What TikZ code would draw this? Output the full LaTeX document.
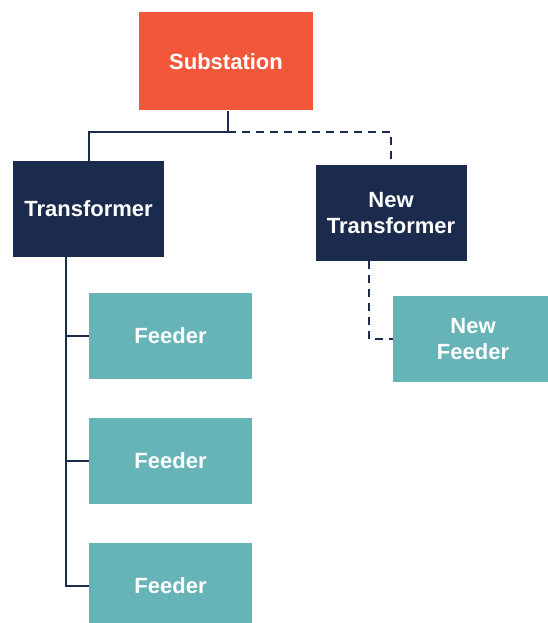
\documentclass[tikz,border=0pt]{standalone}
\usepackage{fontspec}
\setmainfont{Liberation Sans}
\usetikzlibrary{calc}
\definecolor{subred}{HTML}{F2573A}
\definecolor{navy}{HTML}{1B2B4D}
\definecolor{teal}{HTML}{67B4B8}
\tikzset{
    block/.style = {rectangle, inner sep=0pt, text=white,
        font=\fontsize{22}{26}\selectfont\bfseries, align=center},
    subblock/.style = {block, fill=subred, minimum width=174pt, minimum height=98pt},
    trblock/.style = {block, fill=navy, minimum width=151pt, minimum height=96pt},
    fdblock/.style = {block, fill=teal, minimum width=163pt, minimum height=86pt},
    link/.style = {draw=navy, line width=2pt},
    newlink/.style = {link, dash pattern=on 8pt off 6pt}
}

\begin{document}
\begin{tikzpicture}[x=1pt,y=-1pt]
                \useasboundingbox (0,0) rectangle (547,623);
                \node[subblock] (sub) at (226,61.5) {Substation};
                \node[trblock] (tr) at (88.5,209) {Transformer};
                \node[trblock] (ntr) at (391,213) {New\\Transformer};
                \node[fdblock] (f1) at (170.5,336) {Feeder};
                \node[fdblock] (f2) at (170.5,461) {Feeder};
                \node[fdblock] (f3) at (170.5,586) {Feeder};
                \node[fdblock, minimum width=160pt] (nf) at (473,339) {New\\Feeder};
                % bus points
                \coordinate (split) at (228,132);
                \coordinate (trunk) at (66,257);
                \coordinate (ntrunk) at (369,261);
                \draw [link] (sub.south -| split) -- (split) -| (tr.north);
                \draw [newlink] (split) -| (ntr.north);
                \draw [link] (trunk) |- (f3.west);
                \draw [link] (trunk |- f1.west) -- (f1.west);
                \draw [link] (trunk |- f2.west) -- (f2.west);
                \draw [newlink] (ntrunk) |- (nf.west);
            \end{tikzpicture}
\end{document}
